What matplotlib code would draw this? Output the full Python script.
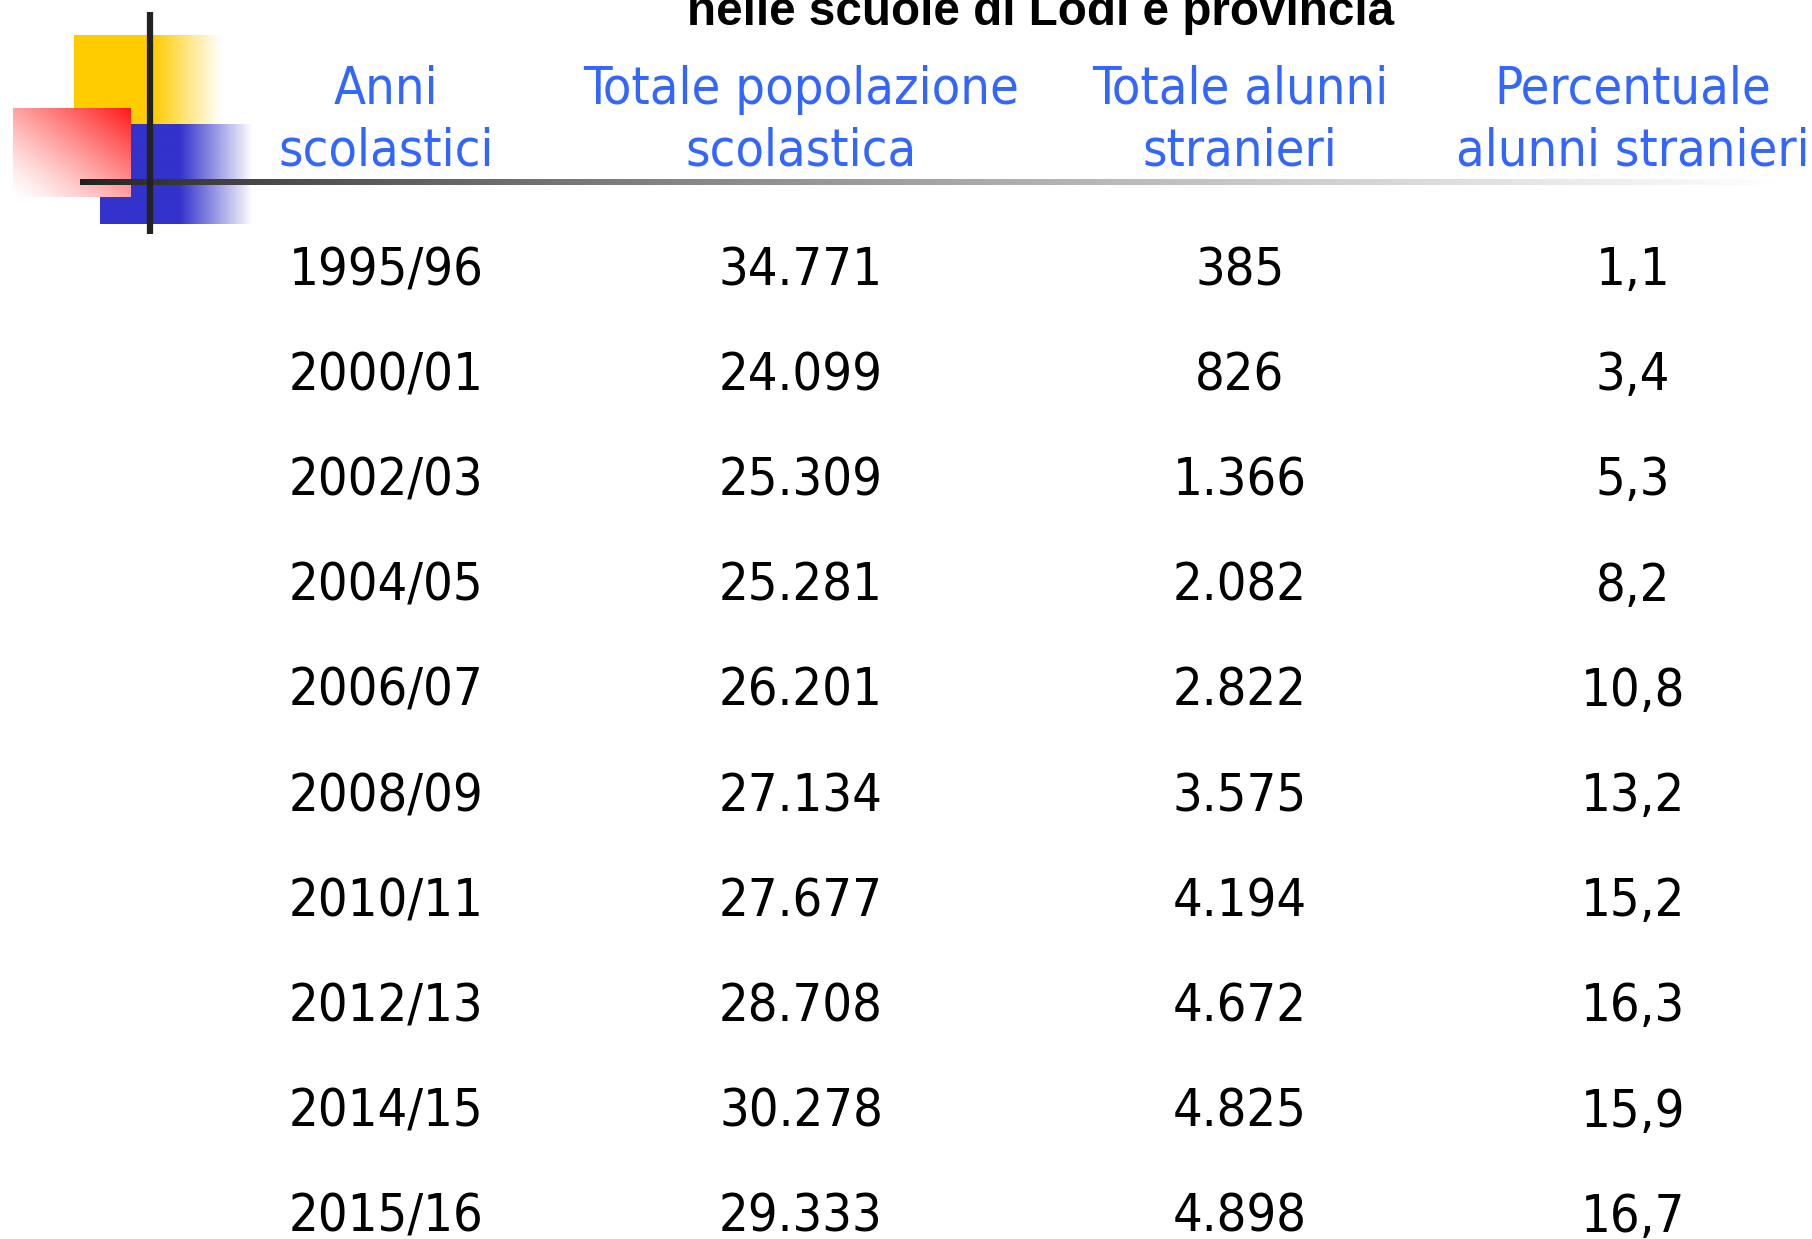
import os
import numpy as np
import matplotlib
matplotlib.use('Agg')
import matplotlib.pyplot as plt
from matplotlib import font_manager as fm

# dati della tabella
titolo = 'nelle scuole di Lodi e provincia'
intestazioni = ['Anni\nscolastici',
                'Totale popolazione\nscolastica',
                'Totale alunni\nstranieri',
                'Percentuale\nalunni stranieri']
anni = ['1995/96', '2000/01', '2002/03', '2004/05', '2006/07',
        '2008/09', '2010/11', '2012/13', '2014/15', '2015/16']
popolazione = [34771, 24099, 25309, 25281, 26201, 27134, 27677, 28708, 30278, 29333]
stranieri = [385, 826, 1366, 2082, 2822, 3575, 4194, 4672, 4825, 4898]
percentuale = [1.1, 3.4, 5.3, 8.2, 10.8, 13.2, 15.2, 16.3, 15.9, 16.7]


def migliaia(v):
    return f'{v:,}'.replace(',', '.')


def decimale(v):
    return f'{v:.1f}'.replace('.', ',')


def trova_font(nomi):
    percorsi = [f.fname for f in fm.fontManager.ttflist] + fm.findSystemFonts()
    for p in percorsi:
        if os.path.basename(p) in nomi:
            return p
    return None


cond = trova_font(['DejaVuSansCondensed.ttf'])
if cond:
    fp_testo = fm.FontProperties(fname=cond, size=37.5)
else:
    fp_testo = fm.FontProperties(family='DejaVu Sans', size=34)
fp_titolo = fm.FontProperties(family='Liberation Sans', weight='bold', size=34.3)

W, H = 1812, 1239
fig = plt.figure(figsize=(W / 100, H / 100), dpi=100)
ax = fig.add_axes([0, 0, 1, 1])
ax.axis('off')


def rettangolo(colore, x0, x1, y0, y1, x_sfuma, z):
    # rettangolo pieno che sfuma a destra verso il bianco
    n = int(x1 - x0)
    xs = np.linspace(x0, x1, n)
    a = np.clip((x1 - xs) / (x1 - x_sfuma), 0, 1)
    img = np.zeros((2, n, 4))
    img[..., :3] = matplotlib.colors.to_rgb(colore)
    img[..., 3] = a[None, :]
    ax.imshow(img, extent=[x0, x1, y1, y0], aspect='auto', zorder=z,
              interpolation='bilinear')


rettangolo('#FFCC00', 74, 222, 35, 124, 153, 1)
rettangolo('#3333CC', 100, 253, 124, 224, 180, 2)

# quadrato rosso con sfumatura diagonale
h, w = 90, 118
u = np.linspace(0, 1, w)[None, :]
v = np.linspace(0, 1, h)[:, None]
t = ((u + 1 - v) / 2) ** 1.3
rosso = np.array([1.0, 0.1, 0.1])
img = 1 - t[..., None] * (1 - rosso)
ax.imshow(img, extent=[13, 131, 197, 108], aspect='auto', zorder=3,
          interpolation='bilinear')

# linea orizzontale sfumata
xs = np.linspace(80, 1812, 800)
s = np.clip((xs - 80) / (1780 - 80), 0, 1)
g = 0.12 + 0.88 * s ** 0.75
linea = np.repeat(g[None, :, None], 3, axis=2).repeat(2, axis=0)
ax.imshow(linea, extent=[80, 1812, 185, 179], aspect='auto', zorder=4,
          interpolation='bilinear')

ax.plot([150, 150], [12, 234], color='#222222', lw=4.5,
        solid_capstyle='butt', zorder=5)

ax.set_xlim(0, W)
ax.set_ylim(H, 0)

# titolo (tagliato in alto come nell'originale)
ax.text(1041, 25, titolo, ha='center', va='baseline',
        fontproperties=fp_titolo, color='black', zorder=6)

colonne_x = [386, 801, 1240, 1633]
for cx, testo in zip(colonne_x, intestazioni):
    for k, riga in enumerate(testo.split('\n')):
        ax.text(cx, 104 + 62 * k, riga, ha='center', va='baseline',
                fontproperties=fp_testo, color='#3366FF', zorder=6)

for i in range(len(anni)):
    y = 285 + 105.2 * i
    valori = [anni[i], migliaia(popolazione[i]), migliaia(stranieri[i]),
              decimale(percentuale[i])]
    for cx, testo in zip(colonne_x, valori):
        ax.text(cx, y, testo, ha='center', va='baseline',
                fontproperties=fp_testo, color='black', zorder=6)

fig.savefig('out.png', dpi=100)
